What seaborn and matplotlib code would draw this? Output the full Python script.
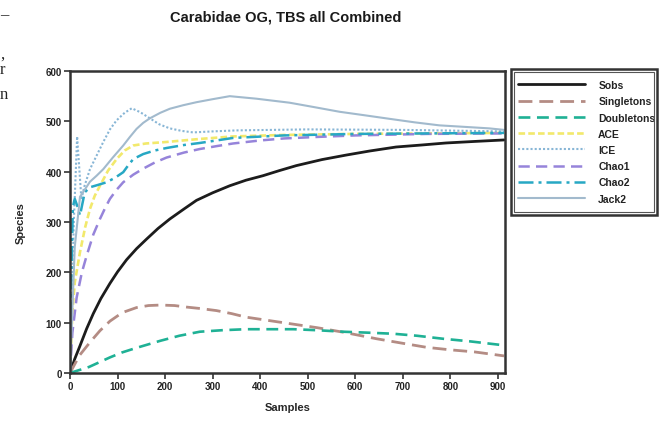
import matplotlib
matplotlib.use("Agg")
import matplotlib.pyplot as plt
import seaborn as sns
import pandas as pd
from matplotlib.patches import Rectangle

# ---- data ----
title = "Carabidae OG, TBS all Combined"
x_label = "Samples"
y_label = "Species"
x_ticks = [0, 100, 200, 300, 400, 500, 600, 700, 800, 900]
y_ticks = [0, 100, 200, 300, 400, 500, 600]

sobs_x = [0, 10, 21, 35, 49, 65, 84, 100, 119, 140, 161, 185, 210, 240, 266, 300, 336,
          370, 406, 440, 476, 530, 581, 630, 686, 740, 791, 850, 913]
sobs_y = [0, 28, 54, 88, 118, 148, 178, 201, 225, 247, 266, 287, 306, 326, 343, 358, 372,
          383, 392, 402, 412, 424, 433, 441, 449, 453, 457, 460, 463]

singletons_x = [0, 20, 42, 63, 84, 110, 140, 165, 190, 220, 245, 275, 308, 340, 370, 420,
                470, 520, 575, 645, 700, 750, 800, 850, 913]
singletons_y = [0, 35, 61, 84, 103, 120, 130, 134, 135, 134, 131, 128, 124, 118, 111, 104,
                97, 90, 81, 68, 59, 51, 46, 42, 34]

doubletons_x = [0, 40, 84, 110, 140, 165, 190, 230, 273, 320, 370, 420, 470, 520, 575, 630,
                680, 730, 785, 840, 913]
doubletons_y = [0, 12, 31, 41, 50, 57, 64, 74, 82, 85, 87, 87, 87, 85, 82, 80, 78, 74, 68,
                63, 55]

ace_x = [0, 5, 10, 21, 32, 42, 52, 63, 80, 98, 115, 133, 160, 203, 273, 343, 450, 600, 750, 913]
ace_y = [0, 120, 180, 240, 290, 326, 352, 372, 402, 425, 442, 452, 456, 459, 465, 470, 473,
         475, 476, 477]

ice_x = [0, 8, 15, 20, 24, 30, 42, 56, 70, 84, 98, 115, 130, 148, 168, 188, 210, 235, 259,
         300, 350, 500, 700, 913]
ice_y = [0, 300, 470, 400, 345, 370, 405, 432, 459, 484, 502, 517, 526, 518, 506, 494, 486,
         481, 478, 480, 482, 484, 483, 480]

chao1_x = [0, 5, 14, 25, 35, 49, 63, 74, 84, 98, 112, 133, 154, 178, 203, 240, 273, 310,
           343, 400, 450, 520, 600, 750, 913]
chao1_y = [0, 80, 150, 200, 233, 275, 306, 328, 346, 364, 379, 394, 406, 418, 428, 438, 445,
           451, 456, 462, 466, 469, 472, 475, 476]

chao2_x = [0, 3, 6, 10, 16, 21, 31, 42, 60, 77, 95, 112, 122, 133, 154, 178, 203, 240, 273,
           343, 450, 600, 750, 913]
chao2_y = [0, 200, 330, 346, 330, 313, 359, 369, 374, 379, 388, 399, 412, 425, 435, 442, 447,
           453, 457, 467, 472, 475, 476, 477]

jack2_x = [0, 10, 21, 42, 56, 70, 90, 112, 126, 140, 154, 168, 190, 210, 238, 266, 300, 336,
           392, 462, 515, 567, 620, 672, 725, 777, 830, 882, 913]
jack2_y = [0, 250, 350, 380, 392, 405, 428, 452, 469, 485, 497, 506, 517, 525, 532, 538, 544,
           550, 545, 537, 528, 519, 512, 505, 498, 492, 489, 486, 483]

series_names = ["Sobs", "Singletons", "Doubletons", "ACE", "ICE", "Chao1", "Chao2", "Jack2"]
series_data = [
    (sobs_x, sobs_y), (singletons_x, singletons_y), (doubletons_x, doubletons_y),
    (ace_x, ace_y), (ice_x, ice_y), (chao1_x, chao1_y), (chao2_x, chao2_y), (jack2_x, jack2_y),
]

# ---- styles ----
styles = {
    "Sobs":       dict(color="#1c1c1c", lw=2.0, dashes=None),
    "Singletons": dict(color="#b48c84", lw=2.0, dashes=(5, 2.5)),
    "Doubletons": dict(color="#1fb195", lw=1.9, dashes=(4.5, 2.5)),
    "ACE":        dict(color="#f2e96c", lw=1.9, dashes=(2.5, 1.2)),
    "ICE":        dict(color="#88b6d6", lw=1.5, dashes=(1, 1)),
    "Chao1":      dict(color="#9684da", lw=1.8, dashes=(4.5, 2.5)),
    "Chao2":      dict(color="#27a8c4", lw=1.8, dashes=(6, 2, 1.2, 2)),
    "Jack2":      dict(color="#a2bacd", lw=1.5, dashes=None),
}

sns.set_style("ticks")
plt.rcParams["font.family"] = ["Liberation Sans", "DejaVu Sans"]

fig = plt.figure(figsize=(6.64, 4.27), dpi=100)
fig.patch.set_facecolor("white")
ax = fig.add_axes([70 / 664, 1 - 374 / 427, 435 / 664, 302 / 427])

for name, (xs, ys) in zip(series_names, series_data):
    df = pd.DataFrame({"Samples": xs, "Species": ys})
    st = styles[name]
    sns.lineplot(data=df, x="Samples", y="Species", ax=ax, color=st["color"],
                 linewidth=st["lw"], label=name, estimator=None, sort=False)
    ln = ax.lines[-1]
    ln.set_solid_joinstyle("round")
    ln.set_dash_joinstyle("round")
    if st["dashes"] is not None:
        ln.set_dashes(st["dashes"])

ax.set_xlim(0, 915)
ax.set_ylim(0, 600)
ax.set_xticks(x_ticks)
ax.set_yticks(y_ticks)
ax.tick_params(axis="both", direction="out", length=4, width=1.2, color="#333333",
               labelsize=7, pad=2)
for lab in ax.get_xticklabels() + ax.get_yticklabels():
    lab.set_fontweight("bold")
    lab.set_color("#222222")
for sp in ax.spines.values():
    sp.set_visible(True)
    sp.set_linewidth(1.8)
    sp.set_color("#333333")

ax.set_xlabel(x_label, fontsize=8, fontweight="bold", labelpad=8)
ax.set_ylabel(y_label, fontsize=8, fontweight="bold", labelpad=14)
fig.text(286 / 664, 1 - 18 / 427, title, ha="center", va="center",
         fontsize=10.5, fontweight="bold", color="#1a1a1a")

# Legend with double frame
leg = ax.legend(loc="upper left", bbox_to_anchor=(518 / 664, 1 - 81 / 427),
                bbox_transform=fig.transFigure, frameon=False, fontsize=7.5,
                handlelength=6.4, handletextpad=1.3, labelspacing=0.6,
                borderpad=0, borderaxespad=0)
for t in leg.get_texts():
    t.set_fontweight("bold")
    t.set_color("#222222")
for h, name in zip(leg.get_lines(), series_names):
    st = styles[name]
    h.set_linewidth(st["lw"])
    if st["dashes"] is not None:
        h.set_dashes(st["dashes"])

fig.patches.append(Rectangle((511 / 664, 1 - 216 / 427), 146 / 664, 146 / 427,
                             transform=fig.transFigure, fill=False, lw=1.8,
                             edgecolor="#333333"))
fig.patches.append(Rectangle((514 / 664, 1 - 213 / 427), 140 / 664, 140 / 427,
                             transform=fig.transFigure, fill=False, lw=0.8,
                             edgecolor="#555555"))

# Fragments of surrounding page text at left edge
for ch, yy in [("\u2013", 15), (",", 55), ("r", 70), ("n", 95)]:
    fig.text(0 / 664, 1 - yy / 427, ch, ha="left", va="center", fontsize=12,
             family="Liberation Serif", color="#222222")

fig.savefig("out.png", dpi=100)
